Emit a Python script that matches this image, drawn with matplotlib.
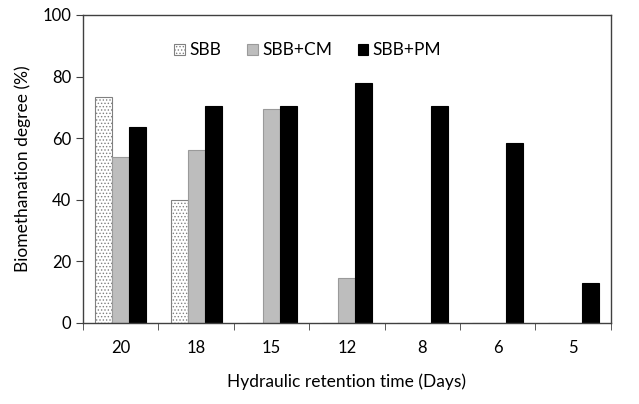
import numpy as np
import matplotlib
matplotlib.use('Agg')
import matplotlib.pyplot as plt

plt.rcParams['font.family'] = ['Lato', 'DejaVu Sans']
plt.rcParams['hatch.linewidth'] = 0.6

hrt = ['20', '18', '15', '12', '8', '6', '5']
sbb = [73.5, 40, 0, 0, 0, 0, 0]
sbb_cm = [54, 56, 69.5, 14.5, 0, 0, 0]
sbb_pm = [63.5, 70.5, 70.5, 78, 70.3, 58.3, 13]

fig = plt.figure(figsize=(6.39, 4.04), dpi=100)
ax = fig.add_axes([0.130, 0.2005, 0.826, 0.7625])

x = np.arange(len(hrt))
w = 0.225
ax.bar(x - w, sbb, w, color='white', edgecolor='#808080', hatch='.....', linewidth=0.8, label='SBB')
ax.bar(x, sbb_cm, w, color='#bdbdbd', edgecolor='#9a9a9a', linewidth=0.8, label='SBB+CM')
ax.bar(x + w, sbb_pm, w, color='black', edgecolor='black', linewidth=0.8, label='SBB+PM')

ax.set_xlim(-0.5, len(hrt) - 0.5)
ax.set_ylim(0, 100)
ax.set_yticks([0, 20, 40, 60, 80, 100])
ax.set_xticks(x)
ax.set_xticklabels(hrt)
ax.set_xticks(np.arange(len(hrt) + 1) - 0.5, minor=True)
ax.tick_params(axis='x', which='major', length=0, pad=12, labelsize=12)
ax.tick_params(axis='x', which='minor', length=5, direction='out', color='#404040')
ax.tick_params(axis='y', length=5, direction='out', labelsize=12, color='#404040')
for s in ax.spines.values():
    s.set_color('#404040')
    s.set_linewidth(1.0)

ax.set_xlabel('Hydraulic retention time (Days)', fontsize=12.5, labelpad=13)
ax.set_ylabel('Biomethanation degree (%)', fontsize=12.5, labelpad=8)

ax.legend(loc='center', bbox_to_anchor=(0.426, 0.885), ncol=3, frameon=False,
          fontsize=12.5, handlelength=0.6, handleheight=0.6, handletextpad=0.25, columnspacing=1.5)

plt.savefig('out.png', dpi=100)
